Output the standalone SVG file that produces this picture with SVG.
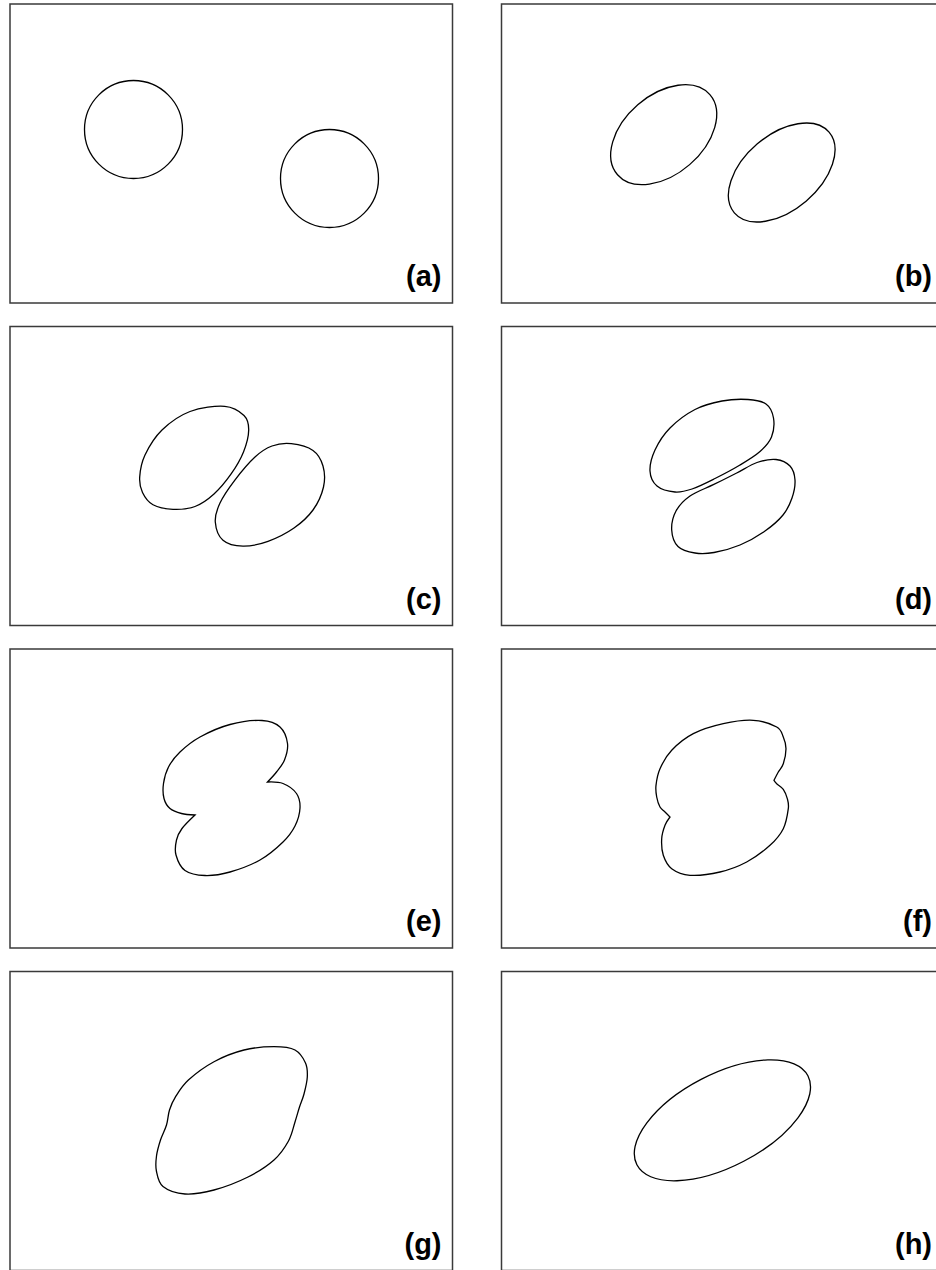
<svg xmlns="http://www.w3.org/2000/svg" width="936" height="1270" viewBox="0 0 936 1270">
<style>
.frame{fill:#fff;stroke:#3a3a3a;stroke-width:1.5}
.shape{fill:none;stroke:#000;stroke-width:1.3}
.lbl{font-family:"Liberation Sans",Arial,sans-serif;font-weight:bold;font-size:29px;fill:#000;text-anchor:end}
</style>
<rect width="936" height="1270" fill="#fff"/>
<g id="panel-a">
<rect class="frame" x="10" y="4" width="442.5" height="299"/>
<circle class="shape" cx="133.5" cy="129.5" r="49"/>
<circle class="shape" cx="329.5" cy="178.5" r="49"/>
<text class="lbl" x="441.5" y="286">(a)</text>
</g>
<g id="panel-b">
<rect class="frame" x="501.5" y="4" width="442.5" height="299"/>
<ellipse class="shape" cx="663.7" cy="134.7" rx="61.1" ry="39.6" transform="rotate(-40.9 663.7 134.7)"/>
<ellipse class="shape" cx="781.7" cy="172.5" rx="62.2" ry="37.6" transform="rotate(-40.4 781.7 172.5)"/>
<text class="lbl" x="932" y="286">(b)</text>
</g>
<g id="panel-c">
<rect class="frame" x="10" y="326.5" width="442.5" height="299"/>
<path class="shape" d="M224.7 406.3C233.7 406.97 240 411.55 244 415.5C248 419.45 248.78 423.92 248.7 430C248.62 436.08 246.4 444.72 243.5 452C240.6 459.28 236.22 466.7 231.3 473.7C226.38 480.7 220.05 488.53 214 494C207.95 499.47 201.83 503.95 195 506.5C188.17 509.05 180 509.58 173 509.3C166 509.02 158.08 507.6 153 504.8C147.92 502 144.72 497.13 142.5 492.5C140.28 487.87 139.28 483.25 139.7 477C140.12 470.75 141.28 462.83 145 455C148.72 447.17 154.5 437.25 162 430C169.5 422.75 179.55 415.45 190 411.5C200.45 407.55 215.7 405.63 224.7 406.3Z"/>
<path class="shape" d="M291.3 443.7C298.13 444.45 307.72 446.78 313 450.5C318.28 454.22 321.25 459.92 323 466C324.75 472.08 325.17 479.67 323.5 487C321.83 494.33 317.92 503.17 313 510C308.08 516.83 301.5 522.78 294 528C286.5 533.22 276.5 538.27 268 541.3C259.5 544.33 250.5 546.37 243 546.2C235.5 546.03 227.62 544.33 223 540.3C218.38 536.27 215.8 528.22 215.3 522C214.8 515.78 216.77 509.95 220 503C223.23 496.05 228.87 487.97 234.7 480.3C240.53 472.63 248.78 462.72 255 457C261.22 451.28 265.95 448.22 272 446C278.05 443.78 284.47 442.95 291.3 443.7Z"/>
<text class="lbl" x="441.5" y="608.5">(c)</text>
</g>
<g id="panel-d">
<rect class="frame" x="501.5" y="326.5" width="442.5" height="299"/>
<path class="shape" d="M748 399.5C755.33 400 761.75 400.92 766 404C770.25 407.08 772.58 412.5 773.5 418C774.42 423.5 773.75 431.42 771.5 437C769.25 442.58 765.25 446.83 760 451.5C754.75 456.17 747.5 460.5 740 465C732.5 469.5 723 474.5 715 478.5C707 482.5 698.67 486.75 692 489C685.33 491.25 680.83 492.5 675 492C669.17 491.5 661.17 489.5 657 486C652.83 482.5 650.33 477 650 471C649.67 465 651.67 457.17 655 450C658.33 442.83 663.33 434.75 670 428C676.67 421.25 686.33 414 695 409.5C703.67 405 713.17 402.67 722 401C730.83 399.33 740.67 399 748 399.5Z"/>
<path class="shape" d="M776 459.5C781.5 460.08 786.83 462.58 790 466C793.17 469.42 794.67 474.67 795 480C795.33 485.33 794 492.17 792 498C790 503.83 787.5 509.5 783 515C778.5 520.5 772.17 526 765 531C757.83 536 748.5 541.42 740 545C731.5 548.58 721.5 551.17 714 552.5C706.5 553.83 701 554 695 553C689 552 681.88 550.33 678 546.5C674.12 542.67 672.03 535.92 671.7 530C671.37 524.08 672.95 516.67 676 511C679.050 505.33 683.78 500.38 690 496C696.22 491.62 705.52 488.53 713.3 484.7C721.08 480.87 729.42 476.7 736.7 473C743.98 469.3 750.45 464.75 757 462.5C763.55 460.25 770.5 458.92 776 459.5Z"/>
<text class="lbl" x="932" y="608.5">(d)</text>
</g>
<g id="panel-e">
<rect class="frame" x="10" y="649" width="442.5" height="299"/>
<path class="shape" d="M262 720.5C270.33 720.92 275.75 723.17 280 727C284.25 730.83 286.75 738 287.5 743.5C288.25 749 286.33 755.25 284.5 760C282.67 764.75 279.33 768.33 276.5 772C273.67 775.67 267.5 782 267.5 782C267.5 782 278.17 781.58 283 783.5C287.83 785.42 293.67 789.42 296.5 793.5C299.33 797.58 300.25 802.58 300 808C299.75 813.42 297.83 820.33 295 826C292.17 831.67 288.83 836.33 283 842C277.17 847.67 268.83 855 260 860C251.17 865 239.17 869.42 230 872C220.83 874.58 212.5 875.75 205 875.5C197.5 875.25 189.83 873.92 185 870.5C180.17 867.08 177.42 860.08 176 855C174.58 849.92 175.5 844.42 176.5 840C177.5 835.58 178.92 832.67 182 828.5C185.08 824.33 195 815 195 815C195 815 185.67 814.58 181.5 813.5C177.33 812.42 172.92 811 170 808.5C167.08 806 165.08 802.67 164 798.5C162.92 794.33 162.75 788.75 163.5 783.5C164.25 778.25 165.75 772.25 168.5 767C171.25 761.75 174.75 757 180 752C185.25 747 191.67 741.58 200 737C208.33 732.42 219.67 727.25 230 724.5C240.33 721.75 253.67 720.08 262 720.5Z"/>
<text class="lbl" x="441.5" y="931">(e)</text>
</g>
<g id="panel-f">
<rect class="frame" x="501.5" y="649" width="442.5" height="299"/>
<path class="shape" d="M753.3 720.3C762.2 720.85 771.7 724.22 776.7 727C781.7 729.78 781.75 733.38 783.3 737C784.85 740.62 786 744.25 786 748.7C786 753.15 784.58 759.82 783.3 763.7C782.02 767.58 779.85 769.23 778.3 772C776.75 774.77 774 780.3 774 780.3C774 780.3 775.15 782.2 776.7 783.7C778.25 785.2 781.53 786.8 783.3 789.3C785.07 791.8 786.47 795.47 787.3 798.7C788.13 801.93 788.97 803.7 788.3 808.7C787.63 813.7 786.35 822.6 783.3 828.7C780.25 834.8 776.1 839.75 770 845.3C763.9 850.85 755.03 857.55 746.7 862C738.37 866.45 729.45 869.78 720 872C710.55 874.22 698.05 875.85 690 875.3C681.95 874.75 676.15 872.03 671.7 868.7C667.25 865.37 664.97 860.3 663.3 855.3C661.63 850.3 661.42 843.7 661.7 838.7C661.98 833.7 663.62 828.92 665 825.3C666.38 821.68 670 817 670 817C670 817 666.67 813.67 665 812C663.33 810.33 661.38 809.5 660 807C658.62 804.5 657.37 800.62 656.7 797C656.03 793.38 655.45 790.02 656 785.3C656.55 780.58 657.38 774.53 660 768.7C662.62 762.87 666.15 756.13 671.7 750.3C677.25 744.47 684.7 738.13 693.3 733.7C701.9 729.27 713.3 725.93 723.3 723.7C733.3 721.47 744.4 719.75 753.3 720.3Z"/>
<text class="lbl" x="932" y="931">(f)</text>
</g>
<g id="panel-g">
<rect class="frame" x="10" y="971.5" width="442.5" height="299"/>
<path class="shape" d="M274 1046.7C282.5 1046.7 289.75 1047.28 295 1050C300.25 1052.72 303.45 1058.5 305.5 1063C307.55 1067.5 307.55 1071.83 307.3 1077C307.05 1082.17 305.3 1089 304 1094C302.7 1099 301 1102.33 299.5 1107C298 1111.67 296.83 1116.33 295 1122C293.17 1127.67 292 1134.67 288.5 1141C285 1147.33 280.75 1154 274 1160C267.25 1166 258 1172 248 1177C238 1182 224.5 1187.17 214 1190C203.5 1192.83 193.5 1194.58 185 1194C176.5 1193.42 167.77 1190.33 163 1186.5C158.23 1182.67 157.48 1176.08 156.4 1171C155.32 1165.92 155.82 1161.17 156.5 1156C157.18 1150.83 158.83 1145.17 160.5 1140C162.17 1134.83 165 1130 166.5 1125C168 1120 167.98 1114.72 169.5 1110C171.02 1105.28 172.45 1101.7 175.6 1096.7C178.75 1091.7 182 1085.83 188.4 1080C194.8 1074.17 204.73 1066.7 214 1061.7C223.27 1056.7 234 1052.5 244 1050C254 1047.5 265.5 1046.7 274 1046.7Z"/>
<text class="lbl" x="441.5" y="1253.5">(g)</text>
</g>
<g id="panel-h">
<rect class="frame" x="501.5" y="971.5" width="442.5" height="299"/>
<ellipse class="shape" cx="722.4" cy="1120.3" rx="96.4" ry="46.2" transform="rotate(-27.5 722.4 1120.3)"/>
<text class="lbl" x="932" y="1253.5">(h)</text>
</g>
<g id="connectors"/>
</svg>
